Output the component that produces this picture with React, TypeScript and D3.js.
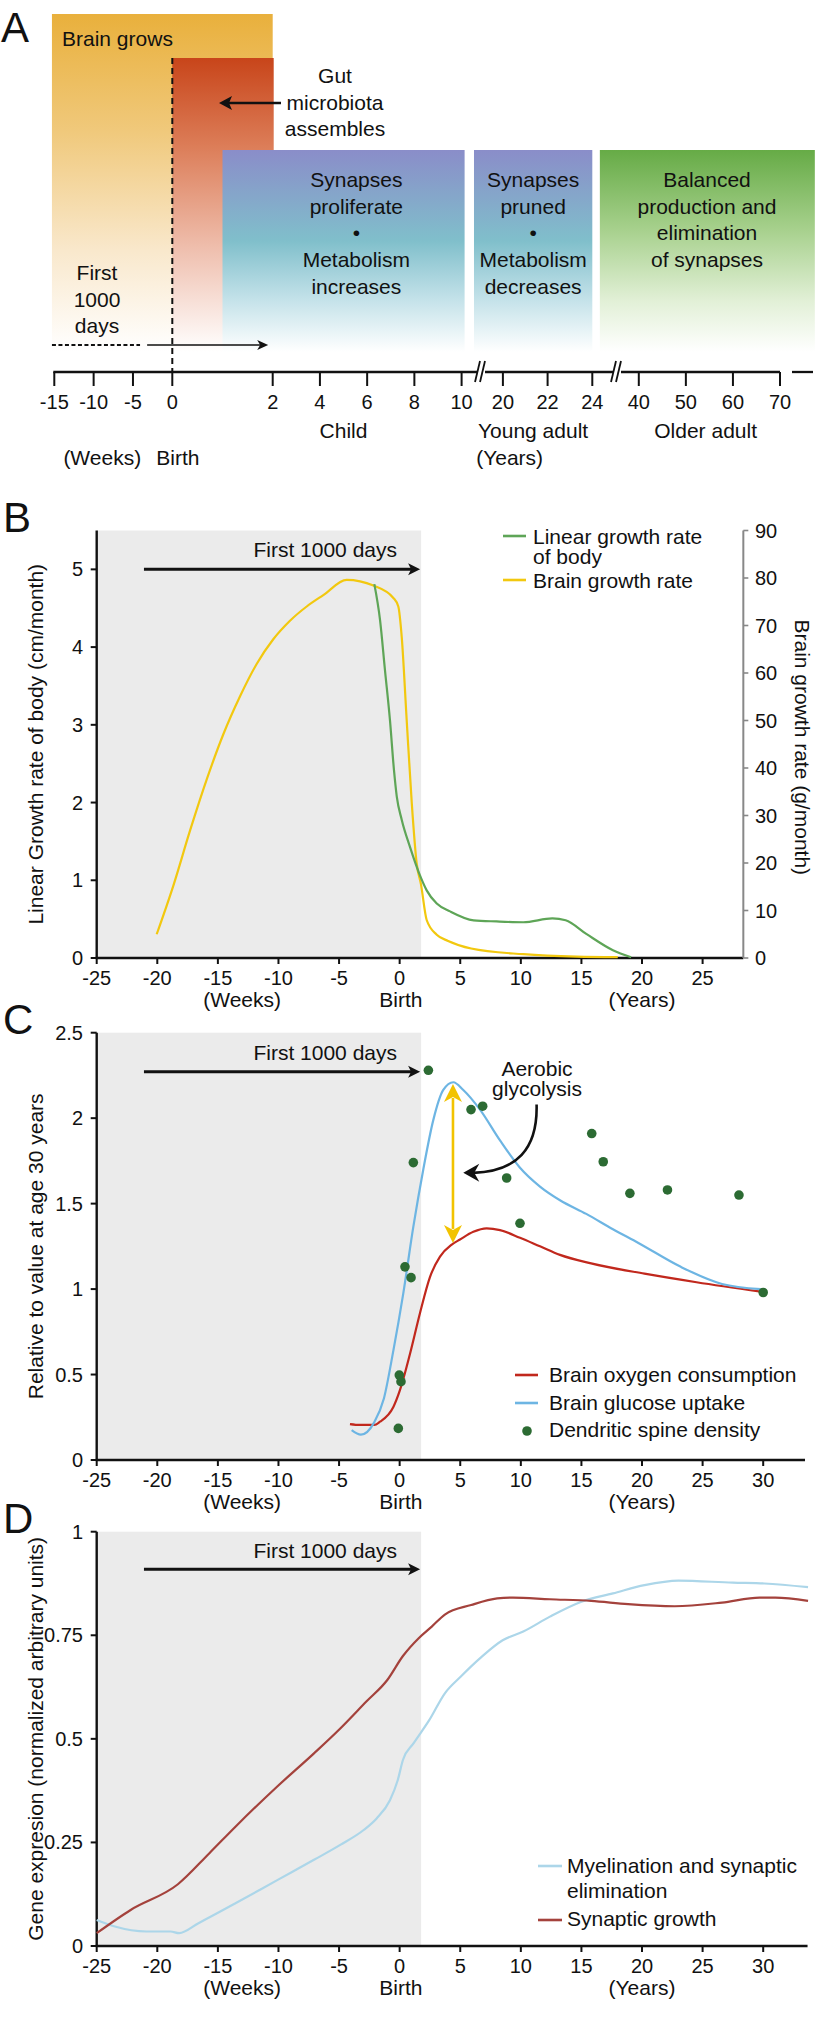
import React from 'react';
import * as d3 from 'd3';

const FONT = "'Liberation Sans', Arial, Helvetica, sans-serif";

// ---------------- Panel A data ----------------
const timelineBreakpoints = [-15, 0, 2, 10, 20, 24, 40, 70];
const timelineTickValues = [-15, -10, -5, 0, 2, 4, 6, 8, 10, 20, 22, 24, 40, 50, 60, 70];
const timelineBreakMarks = [14.7, 32.5];
const brainGrowsText = ['Brain grows'];
const gutText = ['Gut', 'microbiota', 'assembles'];
const proliferateText = ['Synapses', 'proliferate', '•', 'Metabolism', 'increases'];
const prunedText = ['Synapses', 'pruned', '•', 'Metabolism', 'decreases'];
const balancedText = ['Balanced', 'production and', 'elimination', 'of synapses'];
const firstDaysText = ['First', '1000', 'days'];
const lifeStageLabels = [
  { text: 'Child', at: 5 },
  { text: 'Young adult', at: 21.35 },
  { text: 'Older adult', at: 54.2 },
];
const unitLabelsA = [
  { text: '(Weeks)', at: -8.9 },
  { text: 'Birth', at: 0.11 },
  { text: '(Years)', at: 20.3 },
];
// stage periods (timeline units)
const brainPeriod = [-15.3, 2];
const gutPeriod = [0, 2];
const proliferatePeriod = [1, 10];
const prunedPeriod = [13, 24];
const balancedPeriod = [26.6, 77.4];
const firstDaysDotted = [-15.3, -4.1];
const firstDaysSolid = [-3.2, 1.91];

// ---------------- Panel B data ----------------
const bodyGrowthAge = [-2.09, -1.62, -1.21, -0.8, -0.47, -0.24, 0.17, 0.85, 1.76, 2.23, 3.06, 4.16, 6.1, 8, 10.2, 12.6, 13.7, 15.4, 17.6, 19.1];
const bodyGrowthRate = [4.81, 4.35, 3.7, 3.06, 2.42, 2.08, 1.78, 1.43, 1.03, 0.87, 0.7, 0.6, 0.485, 0.47, 0.46, 0.51, 0.485, 0.31, 0.1, 0.01];
const brainGrowthAge = [-20.05, -18.68, -17.3, -15.92, -14.55, -13.17, -11.8, -10.43, -9.05, -7.67, -6.3, -4.37, -2.17, -0.52, -0.11, 0.17, 0.58, 1.0, 1.4, 1.76, 2.23, 3.06, 4.0, 5.9, 10.2, 14.6, 18];
const brainGrowthRate = [5.0, 15.2, 26.8, 37.6, 47.1, 55.1, 61.9, 67.1, 71.0, 74.0, 76.4, 79.6, 78.4, 75.8, 74.0, 67.6, 50.1, 32.6, 20.0, 15.5, 8.0, 4.9, 3.6, 2.0, 0.8, 0.3, 0.2];
const xTicksB = [-25, -20, -15, -10, -5, 0, 5, 10, 15, 20, 25];
const yTicksBLeft = [0, 1, 2, 3, 4, 5];
const yTicksBRight = [0, 10, 20, 30, 40, 50, 60, 70, 80, 90];

// ---------------- Panel C data ----------------
const oxygenAge = [-4.1, -3.27, -2.1, -1.62, -0.52, 0.03, 0.85, 1.68, 2.5, 3.33, 4.3, 4.98, 6.08, 7.18, 8.28, 9.93, 11.58, 13.23, 15.8, 20.2, 24.5, 29.8];
const oxygenValue = [0.21, 0.205, 0.205, 0.224, 0.31, 0.41, 0.62, 0.86, 1.07, 1.19, 1.26, 1.29, 1.335, 1.355, 1.345, 1.3, 1.25, 1.2, 1.15, 1.09, 1.04, 0.985];
const glucoseAge = [-3.96, -3.2, -2.1, -1.3, -0.52, 0.3, 1.13, 1.95, 2.78, 3.6, 4.43, 5.25, 6.63, 8.28, 9.93, 11.58, 13.23, 15.4, 17.6, 19.7, 23.2, 26.6, 29.8];
const glucoseValue = [0.175, 0.148, 0.22, 0.36, 0.64, 0.975, 1.365, 1.7, 1.99, 2.165, 2.21, 2.165, 2.05, 1.87, 1.71, 1.6, 1.52, 1.44, 1.35, 1.27, 1.13, 1.03, 1.0];
const spineAge = [2.37, 1.13, 0.44, 0.94, -0.03, 0.11, -0.11, 5.89, 6.85, 8.83, 9.93, 15.85, 16.8, 19.0, 22.1, 28.0, 30.0];
const spineValue = [2.28, 1.74, 1.13, 1.067, 0.497, 0.458, 0.185, 2.05, 2.07, 1.65, 1.385, 1.91, 1.745, 1.56, 1.58, 1.55, 0.98];
const xTicksCD = [-25, -20, -15, -10, -5, 0, 5, 10, 15, 20, 25, 30];
const yTicksC = [0, 0.5, 1, 1.5, 2, 2.5];
const glycolysisAge = 4.4;
const glycolysisRange = [1.27, 2.2];

// ---------------- Panel D data ----------------
const synGrowthAge = [-25, -22.2, -18.3, -15.7, -13.55, -10.1, -7.07, -4.9, -2.75, -1.02, 0.27, 1.57, 2.65, 3.73, 5.9, 8.05, 9.35, 12.4, 15.8, 18.85, 22.7, 26.6, 29.7, 31, 33.7];
const synGrowthValue = [0.031, 0.087, 0.149, 0.224, 0.288, 0.385, 0.465, 0.525, 0.59, 0.642, 0.7, 0.743, 0.771, 0.8, 0.823, 0.839, 0.841, 0.837, 0.833, 0.825, 0.82, 0.829, 0.841, 0.841, 0.833];
const myelinAge = [-25, -23.5, -20.9, -18.9, -18.2, -16.6, -13.55, -10.1, -7.07, -4.9, -2.97, -1.9, -0.8, -0.16, 0.27, 1.14, 2.44, 3.73, 5.03, 6.76, 8.5, 10.2, 12.4, 15.0, 17.6, 20.2, 23.0, 27.5, 30.1, 33.7];
const myelinValue = [0.063, 0.047, 0.035, 0.035, 0.031, 0.055, 0.103, 0.159, 0.208, 0.244, 0.28, 0.308, 0.352, 0.4, 0.449, 0.489, 0.545, 0.61, 0.65, 0.698, 0.738, 0.759, 0.795, 0.831, 0.851, 0.871, 0.882, 0.877, 0.875, 0.866];
const yTicksD = [0, 0.25, 0.5, 0.75, 1];

const firstDaysEnd = 1.77;
const firstDaysArrowStart = -21.1;

const zip = (a: number[], b: number[]) => a.map((v, i) => [v, b[i]] as [number, number]);

export default function App() {
  // ---------- scales ----------
  const xA = d3.scaleLinear().domain(timelineBreakpoints).range([54.3, 172.3, 272.7, 461.6, 502.9, 592.3, 638.8, 780]);
  const x = d3.scaleLinear().domain([-25, 30]).range([96.7, 763.2]);
  const yB = d3.scaleLinear().domain([0, 5.5]).range([958, 530.5]);
  const yBR = d3.scaleLinear().domain([0, 90]).range([958, 530.5]);
  const yC = d3.scaleLinear().domain([0, 2.5]).range([1460, 1032.7]);
  const yD = d3.scaleLinear().domain([0, 1]).range([1946, 1531.7]);

  const lineOf = (ys: d3.ScaleLinear<number, number>) =>
    d3.line<[number, number]>().x((d) => x(d[0])).y((d) => ys(d[1])).curve(d3.curveMonotoneX);

  const axisColor = '#111';

  const frame = (
    key: string,
    ys: d3.ScaleLinear<number, number>,
    yTop: number,
    xEnd: number,
    xTicks: number[],
    yTicks: number[],
    yLabel: string,
    letter: string,
    firstDaysBaseline: number,
    arrowY: number,
  ) => {
    const y0 = ys(0);
    const yT = ys(yTop);
    const subY = y0 + 49;
    const tip = x(firstDaysEnd) - 1;
    return (
      <g key={key}>
        <rect x={x(-25)} y={yT} width={x(firstDaysEnd) - x(-25)} height={y0 - yT} fill="#ebebeb" />
        <text x={3} y={yT + 1} fontSize={42} fontFamily={FONT} fill="#111">{letter}</text>
        {/* first 1000 days arrow */}
        <line x1={x(firstDaysArrowStart)} x2={tip - 8} y1={arrowY} y2={arrowY} stroke="#111" strokeWidth={3} />
        <path d={`M${tip},${arrowY} L${tip - 12},${arrowY - 6} L${tip - 9},${arrowY} L${tip - 12},${arrowY + 6} Z`} fill="#111" />
        <text x={397} y={firstDaysBaseline} fontSize={21} textAnchor="end" fontFamily={FONT} fill="#111">First 1000 days</text>
        {/* axes */}
        <line x1={x(-25)} x2={x(-25)} y1={yT} y2={y0 + 1} stroke={axisColor} strokeWidth={2.4} />
        <line x1={x(-25) - 1} x2={x(xEnd)} y1={y0} y2={y0} stroke={axisColor} strokeWidth={2.6} />
        {yTicks.map((t) => (
          <g key={'y' + t}>
            <line x1={x(-25) - 6} x2={x(-25)} y1={ys(t)} y2={ys(t)} stroke={axisColor} strokeWidth={2} />
            <text x={83} y={ys(t) + 7} fontSize={20} textAnchor="end" fontFamily={FONT} fill="#111">{String(t)}</text>
          </g>
        ))}
        {xTicks.map((t) => (
          <g key={'x' + t}>
            <line x1={x(t)} x2={x(t)} y1={y0} y2={y0 + 6} stroke={axisColor} strokeWidth={2} />
            <text x={x(t)} y={y0 + 27} fontSize={20} textAnchor="middle" fontFamily={FONT} fill="#111">{String(t)}</text>
          </g>
        ))}
        <text x={x(-13)} y={subY} fontSize={21} textAnchor="middle" fontFamily={FONT} fill="#111">(Weeks)</text>
        <text x={x(0.1)} y={subY} fontSize={21} textAnchor="middle" fontFamily={FONT} fill="#111">Birth</text>
        <text x={x(20)} y={subY} fontSize={21} textAnchor="middle" fontFamily={FONT} fill="#111">(Years)</text>
        <text transform={`translate(43,${(yT + y0) / 2}) rotate(-90)`} fontSize={21} textAnchor="middle" fontFamily={FONT} fill="#111">{yLabel}</text>
      </g>
    );
  };

  const lineH = 26.7;
  const textA = (lines: string[], cx: number, firstBaseline: number, key: string, anchor = 'middle') =>
    lines.map((t, i) => (
      <text key={key + i} x={cx} y={firstBaseline + i * lineH} fontSize={21} textAnchor={anchor} fontFamily={FONT} fill="#111">{t}</text>
    ));

  const boxTop = 150;
  const boxBottom = 352;

  const gx = x(glycolysisAge);
  const gTop = yC(glycolysisRange[1]);
  const gBot = yC(glycolysisRange[0]);
  const ax = x(5.25);
  const ay = yC(1.68);

  return (
    <div style={{ position: 'absolute', left: 0, top: 0, width: 817, height: 2027, background: '#fff' }}>
      <svg width={817} height={2027} viewBox="0 0 817 2027" style={{ display: 'block' }}>
        <defs>
          <linearGradient id="gBrain" x1="0" y1="0" x2="0" y2="1">
            <stop offset="0" stopColor="#e9b03c" />
            <stop offset="0.35" stopColor="#f0c97c" />
            <stop offset="0.7" stopColor="#f9e8cc" />
            <stop offset="1" stopColor="#ffffff" />
          </linearGradient>
          <linearGradient id="gGut" x1="0" y1="0" x2="0" y2="1">
            <stop offset="0" stopColor="#c8451a" />
            <stop offset="0.3" stopColor="#dc7d58" />
            <stop offset="0.65" stopColor="#efbfae" />
            <stop offset="1" stopColor="#ffffff" />
          </linearGradient>
          <linearGradient id="gBlue" x1="0" y1="0" x2="0" y2="1">
            <stop offset="0" stopColor="#8a8dc9" />
            <stop offset="0.45" stopColor="#80bfcb" />
            <stop offset="0.75" stopColor="#c6e3ea" />
            <stop offset="1" stopColor="#ffffff" />
          </linearGradient>
          <linearGradient id="gGreen" x1="0" y1="0" x2="0" y2="1">
            <stop offset="0" stopColor="#66ab46" />
            <stop offset="0.4" stopColor="#a8d18e" />
            <stop offset="0.75" stopColor="#e2f0d7" />
            <stop offset="1" stopColor="#ffffff" />
          </linearGradient>
        </defs>

        {/* ================= Panel A ================= */}
        <text x={1} y={42} fontSize={42} fontFamily={FONT} fill="#111">A</text>
        <rect x={xA(brainPeriod[0])} y={14} width={xA(brainPeriod[1]) - xA(brainPeriod[0])} height={boxBottom - 14} fill="url(#gBrain)" />
        <rect x={xA(gutPeriod[0])} y={58} width={xA(gutPeriod[1]) - xA(gutPeriod[0]) + 1} height={boxBottom - 58} fill="url(#gGut)" />
        <rect x={xA(proliferatePeriod[0])} y={boxTop} width={xA(proliferatePeriod[1]) - xA(proliferatePeriod[0]) + 3} height={boxBottom - boxTop} fill="url(#gBlue)" />
        <rect x={xA(prunedPeriod[0])} y={boxTop} width={xA(prunedPeriod[1]) - xA(prunedPeriod[0])} height={boxBottom - boxTop} fill="url(#gBlue)" />
        <rect x={xA(balancedPeriod[0])} y={boxTop} width={xA(balancedPeriod[1]) - xA(balancedPeriod[0])} height={boxBottom - boxTop} fill="url(#gGreen)" />

        {textA(brainGrowsText, 62, 46, 'bg', 'start')}
        {textA(gutText, 335, 83, 'gut')}
        <line x1={281} x2={228} y1={103} y2={103} stroke="#111" strokeWidth={2.6} />
        <path d="M219,103 L232,96 L229,103 L232,110 Z" fill="#111" />
        {textA(proliferateText, xA((proliferatePeriod[0] + proliferatePeriod[1]) / 2) + 1, 187, 'pr')}
        {textA(prunedText, (xA(prunedPeriod[0]) + xA(prunedPeriod[1])) / 2, 187, 'pn')}
        {textA(balancedText, 707, 187, 'bal')}
        {textA(firstDaysText, 97, 280, 'fd')}

        {/* birth dashed line */}
        <line x1={xA(0)} x2={xA(0)} y1={58} y2={372} stroke="#111" strokeWidth={2} strokeDasharray="6,4" />
        {/* first 1000 days arrow */}
        <line x1={xA(firstDaysDotted[0])} x2={xA(firstDaysDotted[1])} y1={345} y2={345} stroke="#111" strokeWidth={2} strokeDasharray="4,2.5" />
        <line x1={xA(firstDaysSolid[0])} x2={xA(firstDaysSolid[1]) - 8} y1={345} y2={345} stroke="#111" strokeWidth={1.6} />
        <path d={`M${xA(firstDaysSolid[1])},345 L${xA(firstDaysSolid[1]) - 11},340 L${xA(firstDaysSolid[1]) - 8},345 L${xA(firstDaysSolid[1]) - 11},350 Z`} fill="#111" />

        {/* timeline axis */}
        <line x1={xA(-15) - 1} x2={xA(70)} y1={372} y2={372} stroke="#111" strokeWidth={2.3} />
        <line x1={xA(70) + 12} x2={xA(70) + 33} y1={372} y2={372} stroke="#111" strokeWidth={2.3} />
        {timelineTickValues.map((t) => (
          <g key={'ta' + t}>
            <line x1={xA(t)} x2={xA(t)} y1={372} y2={386} stroke="#111" strokeWidth={2} />
            <text x={xA(t)} y={409} fontSize={20} textAnchor="middle" fontFamily={FONT} fill="#111">{String(t)}</text>
          </g>
        ))}
        {timelineBreakMarks.map((b) => (
          <g key={'br' + b}>
            <rect x={xA(b) - 4} y={366} width={8} height={12} fill="#fff" />
            <line x1={xA(b) - 6} x2={xA(b) - 1} y1={382} y2={361} stroke="#111" strokeWidth={1.8} />
            <line x1={xA(b) - 1} x2={xA(b) + 4} y1={382} y2={361} stroke="#111" strokeWidth={1.8} />
          </g>
        ))}
        {lifeStageLabels.map((l) => (
          <text key={l.text} x={xA(l.at)} y={438} fontSize={21} textAnchor="middle" fontFamily={FONT} fill="#111">{l.text}</text>
        ))}
        {unitLabelsA.map((l) => (
          <text key={l.text} x={xA(l.at)} y={465} fontSize={21} textAnchor="middle" fontFamily={FONT} fill="#111">{l.text}</text>
        ))}

        {/* ================= Panel B ================= */}
        {frame('B', yB, 5.5, 28.36, xTicksB, yTicksBLeft, 'Linear Growth rate of body (cm/month)', 'B', 557, yB(5))}
        {/* right axis */}
        <line x1={x(28.36)} x2={x(28.36)} y1={yBR(90)} y2={yBR(0)} stroke="#888" strokeWidth={2} />
        {yTicksBRight.map((t) => (
          <g key={'yr' + t}>
            <line x1={x(28.36)} x2={x(28.36) + 5} y1={yBR(t)} y2={yBR(t)} stroke="#888" strokeWidth={1.6} />
            <text x={755} y={yBR(t) + 7} fontSize={20} fontFamily={FONT} fill="#111">{String(t)}</text>
          </g>
        ))}
        <text transform={`translate(795,${(yBR(90) + yBR(0)) / 2 + 3}) rotate(90)`} fontSize={21} textAnchor="middle" fontFamily={FONT} fill="#111">Brain growth rate (g/month)</text>
        <path d={lineOf(yBR)(zip(brainGrowthAge, brainGrowthRate)) || ''} fill="none" stroke="#f2c80f" strokeWidth={2.2} />
        <path d={lineOf(yB)(zip(bodyGrowthAge, bodyGrowthRate)) || ''} fill="none" stroke="#5ea557" strokeWidth={2.2} />
        {/* legend B */}
        <line x1={503} x2={526} y1={536} y2={536} stroke="#5ea557" strokeWidth={2.6} />
        <text x={533} y={544} fontSize={21} fontFamily={FONT} fill="#111">Linear growth rate</text>
        <text x={533} y={564} fontSize={21} fontFamily={FONT} fill="#111">of body</text>
        <line x1={503} x2={526} y1={580} y2={580} stroke="#f2c80f" strokeWidth={2.6} />
        <text x={533} y={588} fontSize={21} fontFamily={FONT} fill="#111">Brain growth rate</text>

        {/* ================= Panel C ================= */}
        {frame('C', yC, 2.5, 33.45, xTicksCD, yTicksC, 'Relative  to value at age 30 years', 'C', 1060, 1071.7)}
        <path d={lineOf(yC)(zip(oxygenAge, oxygenValue)) || ''} fill="none" stroke="#c1281d" strokeWidth={2.2} />
        <path d={lineOf(yC)(zip(glucoseAge, glucoseValue)) || ''} fill="none" stroke="#6db5e3" strokeWidth={2.2} />
        {spineAge.map((a, i) => (
          <circle key={'sp' + i} cx={x(a)} cy={yC(spineValue[i])} r={4.8} fill="#2c6b33" />
        ))}
        {/* aerobic glycolysis double arrow */}
        <line x1={gx} x2={gx} y1={gTop + 14} y2={gBot - 14} stroke="#f2c300" strokeWidth={2.6} />
        <path d={`M${gx},${gTop} L${gx + 9},${gTop + 18} L${gx},${gTop + 13} L${gx - 9},${gTop + 18} Z`} fill="#f2c300" />
        <path d={`M${gx},${gBot} L${gx + 9},${gBot - 18} L${gx},${gBot - 13} L${gx - 9},${gBot - 18} Z`} fill="#f2c300" />
        <text x={537} y={1076} fontSize={21} textAnchor="middle" fontFamily={FONT} fill="#111">Aerobic</text>
        <text x={537} y={1096} fontSize={21} textAnchor="middle" fontFamily={FONT} fill="#111">glycolysis</text>
        <path d={`M${x(11.3)},${yC(2.08)} Q${x(11.45)},${yC(1.69)} ${ax + 10},${ay}`} fill="none" stroke="#111" strokeWidth={2.6} />
        <path d={`M${ax},${ay} L${ax + 16},${ay - 9} L${ax + 11},${ay} L${ax + 16},${ay + 9} Z`} fill="#111" />
        {/* legend C */}
        <line x1={515} x2={538} y1={1375} y2={1375} stroke="#c1281d" strokeWidth={2.6} />
        <text x={549} y={1382} fontSize={21} fontFamily={FONT} fill="#111">Brain oxygen consumption</text>
        <line x1={515} x2={538} y1={1403} y2={1403} stroke="#6db5e3" strokeWidth={2.6} />
        <text x={549} y={1410} fontSize={21} fontFamily={FONT} fill="#111">Brain glucose uptake</text>
        <circle cx={527} cy={1431} r={4.8} fill="#2c6b33" />
        <text x={549} y={1437} fontSize={21} fontFamily={FONT} fill="#111">Dendritic spine density</text>

        {/* ================= Panel D ================= */}
        {frame('D', yD, 1, 33.66, xTicksCD, yTicksD, 'Gene expresion (normalized arbitrary units)', 'D', 1558, 1569.3)}
        <path d={lineOf(yD)(zip(myelinAge, myelinValue)) || ''} fill="none" stroke="#acd6e9" strokeWidth={2.2} />
        <path d={lineOf(yD)(zip(synGrowthAge, synGrowthValue)) || ''} fill="none" stroke="#a4423c" strokeWidth={2.2} />
        {/* legend D */}
        <line x1={538} x2={562} y1={1866} y2={1866} stroke="#acd6e9" strokeWidth={2.6} />
        <text x={567} y={1873} fontSize={21} fontFamily={FONT} fill="#111">Myelination and synaptic</text>
        <text x={567} y={1898} fontSize={21} fontFamily={FONT} fill="#111">elimination</text>
        <line x1={538} x2={562} y1={1920} y2={1920} stroke="#a4423c" strokeWidth={2.6} />
        <text x={567} y={1926} fontSize={21} fontFamily={FONT} fill="#111">Synaptic growth</text>
      </svg>
    </div>
  );
}
